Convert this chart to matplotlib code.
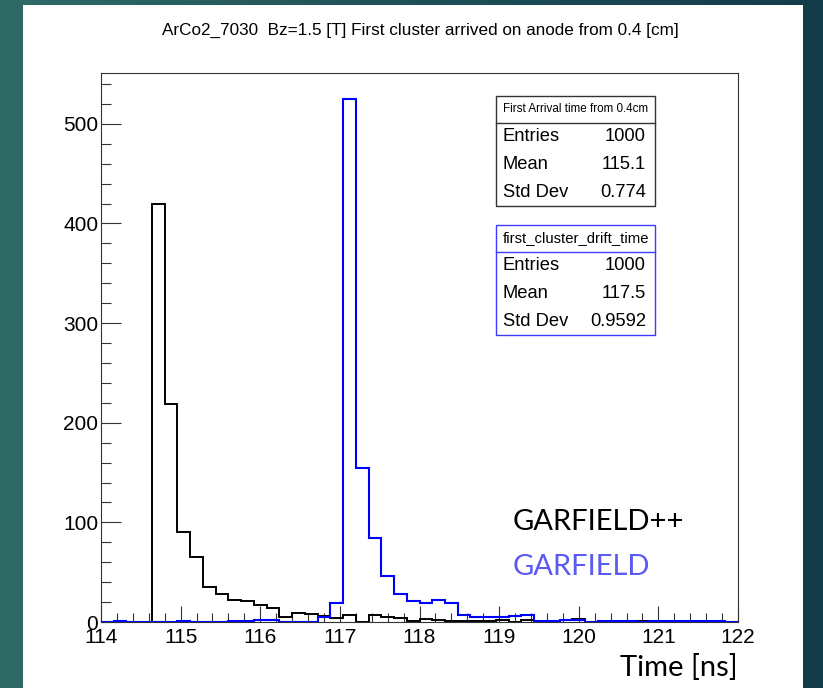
import numpy as np
import matplotlib.pyplot as plt
from matplotlib.patches import Rectangle
from matplotlib.ticker import MultipleLocator
from matplotlib.colors import LinearSegmentedColormap

# Histogram binning: 50 bins of 0.16 ns from 114 to 122
bin_lo = 114.0
bin_width = 0.16
n_bins = 50

# counts per bin
garfieldpp_counts = [0, 0, 0, 0, 420, 219, 90, 65, 35, 28,
                     22, 21, 17, 14, 5, 9, 8, 6, 4, 7,
                     0, 7, 5, 4, 1, 3, 2, 1, 1, 1,
                     1, 2, 0, 2, 1, 0, 2, 3, 0, 0,
                     0, 0, 1, 0, 0, 1, 1, 1, 1, 0]
garfield_counts = [0, 1, 0, 0, 0, 0, 1, 0, 0, 0,
                   1, 1, 2, 2, 0, 0, 0, 5, 19, 525,
                   155, 84, 46, 28, 21, 19, 22, 19, 7, 5,
                   5, 5, 6, 7, 1, 1, 2, 2, 0, 1,
                   1, 1, 0, 1, 1, 1, 1, 1, 1, 0]

title = "ArCo2_7030  Bz=1.5 [T] First cluster arrived on anode from 0.4 [cm]"
stats_pp = ("First Arrival time from 0.4cm", [("Entries", "1000"), ("Mean", "115.1"), ("Std Dev", "0.774")])
stats_g = ("first_cluster_drift_time", [("Entries", "1000"), ("Mean", "117.5"), ("Std Dev", "0.9592")])

W, H = 823, 688


def fx(px):
    return px / W


def fy(py):
    return 1 - py / H


plt.rcParams['font.family'] = ['Liberation Sans', 'DejaVu Sans']

fig = plt.figure(figsize=(W / 100, H / 100), dpi=100)

# teal gradient background + white slide panel
bg = fig.add_axes([0, 0, 1, 1], zorder=-10)
grad = np.linspace(0, 1, 256).reshape(1, -1)
cmap = LinearSegmentedColormap.from_list("teal", ["#2f6b66", "#1f5058", "#143b4a"])
bg.imshow(grad, aspect="auto", cmap=cmap, extent=[0, 1, 0, 1])
bg.axis("off")
fig.patches.append(Rectangle((fx(23), 0), fx(803) - fx(23), fy(5), transform=fig.transFigure,
                             facecolor="white", edgecolor="none", zorder=-5))

ax = fig.add_axes([fx(101), fy(622), fx(738) - fx(101), fy(73) - fy(622)])
ax.set_facecolor("white")

edges = bin_lo + bin_width * np.arange(n_bins + 1)
ax.stairs(garfieldpp_counts, edges, baseline=0, color="black", linewidth=1.4, zorder=3)
ax.stairs(garfield_counts, edges, baseline=0, color="#0000ff", linewidth=1.5, zorder=4)

ax.set_xlim(114, 122)
ax.set_ylim(0, 551)
ax.xaxis.set_major_locator(MultipleLocator(1))
ax.xaxis.set_minor_locator(MultipleLocator(0.2))
ax.yaxis.set_major_locator(MultipleLocator(100))
ax.yaxis.set_minor_locator(MultipleLocator(20))
ax.tick_params(axis="x", which="major", direction="in", length=11.5, width=0.8, labelsize=15, pad=4, color="#333333")
ax.tick_params(axis="x", which="minor", direction="in", length=6.5, width=0.8, color="#333333")
ax.tick_params(axis="y", which="major", direction="in", length=14.5, width=0.8, labelsize=15, pad=2, color="#333333")
ax.tick_params(axis="y", which="minor", direction="in", length=7.5, width=0.8, color="#333333")
for s in ax.spines.values():
    s.set_linewidth(0.8)
    s.set_color("#333333")

fig.text(fx(420), fy(30), title, ha="center", va="center", fontsize=12.3)

# stats boxes
def stats_box(top, bottom, head_bottom, edge, head, rows, head_size):
    fig.patches.append(Rectangle((fx(496), fy(bottom)), fx(655) - fx(496), fy(top) - fy(bottom),
                                 transform=fig.transFigure, facecolor="white", edgecolor=edge,
                                 linewidth=1.0, zorder=5))
    fig.add_artist(plt.Line2D([fx(496), fx(655)], [fy(head_bottom), fy(head_bottom)],
                              transform=fig.transFigure, color=edge, linewidth=1.0, zorder=6))
    fig.text(fx(575.5), fy((top + head_bottom) / 2), head, ha="center", va="center",
             fontsize=head_size, zorder=7)
    row_h = (bottom - head_bottom) / 3
    for i, (k, v) in enumerate(rows):
        yc = head_bottom + row_h * (i + 0.5)
        fig.text(fx(503), fy(yc), k, ha="left", va="center", fontsize=13.2, zorder=7)
        fig.text(fx(646), fy(yc), v, ha="right", va="center", fontsize=13.2, zorder=7)


stats_box(96, 206, 123, "#333333", stats_pp[0], stats_pp[1], 8.4)
stats_box(225, 335, 252, "#3c3cff", stats_g[0], stats_g[1], 10.7)

# legend-like labels
fig.text(fx(513), fy(522), "GARFIELD++", ha="left", va="center", fontsize=21,
         family=["Lato", "DejaVu Sans"], color="black")
fig.text(fx(513), fy(567), "GARFIELD", ha="left", va="center", fontsize=21,
         family=["Lato", "DejaVu Sans"], color="#5a5af2")
fig.text(fx(738), fy(668), "Time [ns]", ha="right", va="center", fontsize=21,
         family=["Lato", "DejaVu Sans"], color="black")

fig.savefig("out.png", dpi=100)
